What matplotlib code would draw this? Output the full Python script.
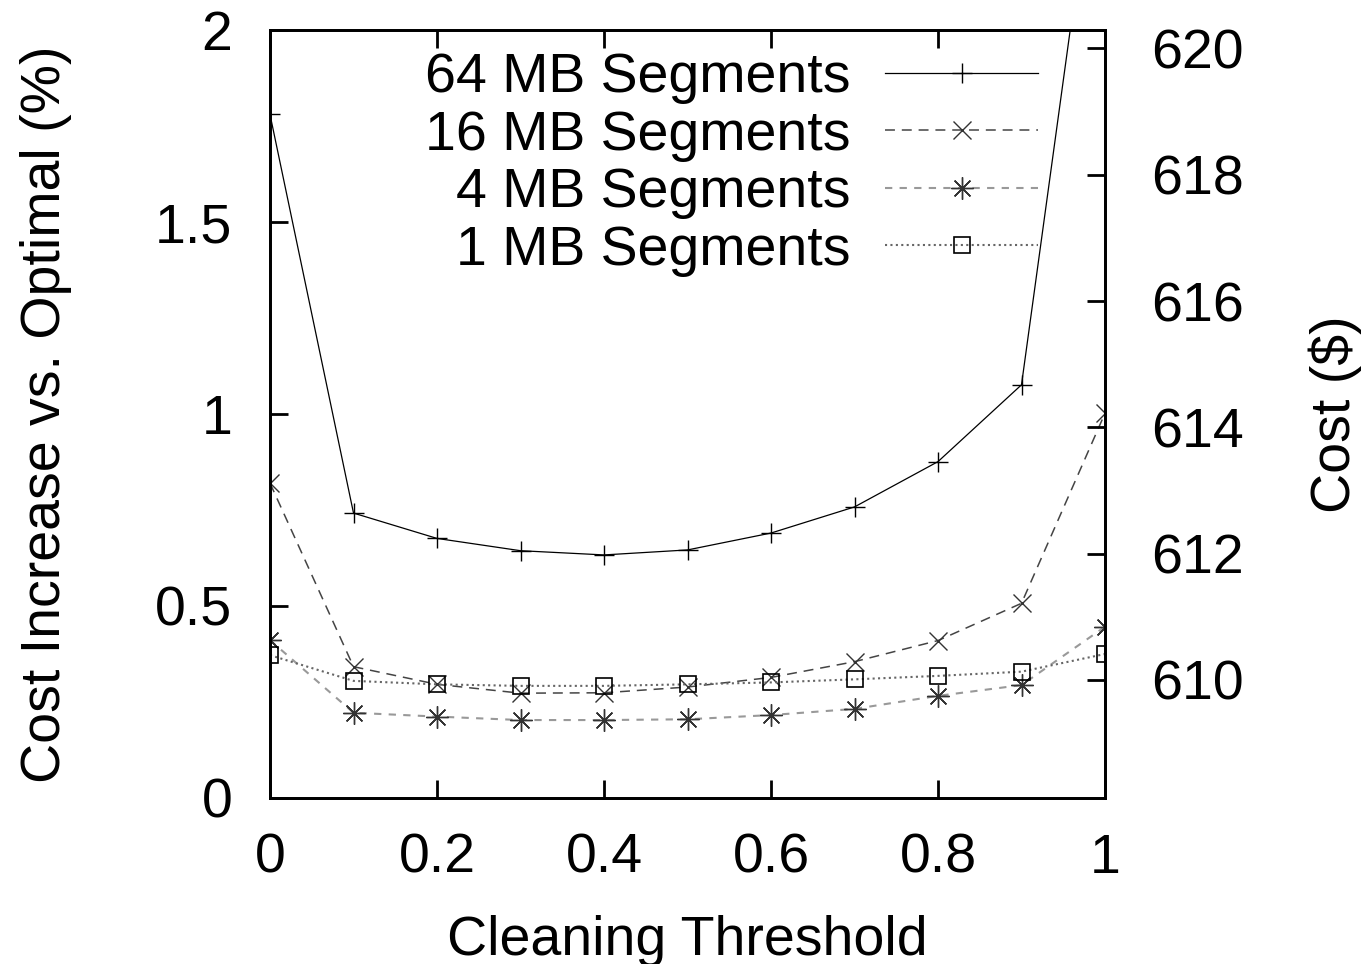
import numpy as np
import matplotlib
matplotlib.use("Agg")
import matplotlib.pyplot as plt

plt.rcParams['font.family'] = ['Liberation Sans', 'DejaVu Sans']

# Cleaning threshold (x) and cost increase vs. optimal (%) per segment size
thresholds = [0.0, 0.1, 0.2, 0.3, 0.4, 0.5, 0.6, 0.7, 0.8, 0.9, 1.0]
seg_64mb = [1.78, 0.742, 0.676, 0.644, 0.633, 0.646, 0.690, 0.758, 0.876, 1.076, 2.66]
seg_16mb = [0.82, 0.342, 0.296, 0.273, 0.274, 0.289, 0.314, 0.355, 0.410, 0.507, 1.002]
seg_4mb = [0.411, 0.222, 0.212, 0.203, 0.203, 0.205, 0.216, 0.232, 0.266, 0.294, 0.446]
seg_1mb = [0.372, 0.305, 0.296, 0.292, 0.292, 0.296, 0.301, 0.309, 0.318, 0.329, 0.375]
labels = ["64 MB Segments", "16 MB Segments", "4 MB Segments", "1 MB Segments"]

# cost of the optimal configuration in dollars (right axis)
optimal_cost = 608.13
cost_ticks = [610, 612, 614, 616, 618, 620]

fig = plt.figure(figsize=(13.68, 9.64), dpi=100)
ax = fig.add_axes([270 / 1368, 166 / 964, 835 / 1368, 768 / 964])

FS = 40
ax.plot(thresholds, seg_64mb, color='black', lw=0.9, marker='+', ms=15, mew=1.0,
        label=labels[0])
ax.plot(thresholds, seg_16mb, color='#444444', lw=1.1, ls=(0, (6.5, 4.5)),
        marker='x', ms=13, mew=1.0, mec='#333333', label=labels[1])
ax.plot(thresholds, seg_4mb, color='#999999', lw=1.5, ls=(0, (3.5, 3.5)),
        marker=(8, 2, 0), ms=16, mew=1.0, mec='#333333', label=labels[2])
ax.plot(thresholds, seg_1mb, color='#666666', lw=1.5, ls=(0, (1, 1.6)),
        marker='s', ms=12, mew=1.2, mfc='none', mec='black', label=labels[3])

ax.set_xlim(0, 1)
ax.set_ylim(0, 2)
ax.set_xticks([0, 0.2, 0.4, 0.6, 0.8, 1])
ax.set_xticklabels(["0", "0.2", "0.4", "0.6", "0.8", "1"])
ax.set_yticks([0, 0.5, 1, 1.5, 2])
ax.set_yticklabels(["0", "0.5", "1", "1.5", "2"])
ax.tick_params(axis='x', direction='in', length=13, width=2, labelsize=FS, pad=25,
               top=True)
ax.tick_params(axis='y', direction='in', length=13, width=2, labelsize=FS, pad=27,
               right=False)
for s in ax.spines.values():
    s.set_linewidth(2)

ax2 = ax.twinx()
lo, hi = ax.get_ylim()
ax2.set_ylim(optimal_cost * (1 + lo / 100), optimal_cost * (1 + hi / 100))
ax2.set_yticks(cost_ticks)
ax2.set_yticklabels([str(t) for t in cost_ticks])
ax2.tick_params(axis='y', direction='in', length=13, width=2, labelsize=FS, pad=33)
for s in ax2.spines.values():
    s.set_linewidth(2)

fig.text(46 / 1368, 1 - 414 / 964, "Cost Increase vs. Optimal (%)", rotation=90,
         ha='center', va='center', fontsize=FS)
fig.text(1335 / 1368, 1 - 414 / 964, "Cost ($)", rotation=90,
         ha='center', va='center', fontsize=FS)
fig.text(687 / 1368, 1 - 955 / 964, "Cleaning Threshold",
         ha='center', va='baseline', fontsize=FS)

ax.legend(loc='upper right', bbox_to_anchor=((1038 - 270) / 835, (798 - 52) / 768),
          frameon=False, markerfirst=False, fontsize=FS, handlelength=2.75,
          handletextpad=0.62, labelspacing=0.1, borderpad=0, borderaxespad=0)

fig.savefig("out.png", dpi=100)
